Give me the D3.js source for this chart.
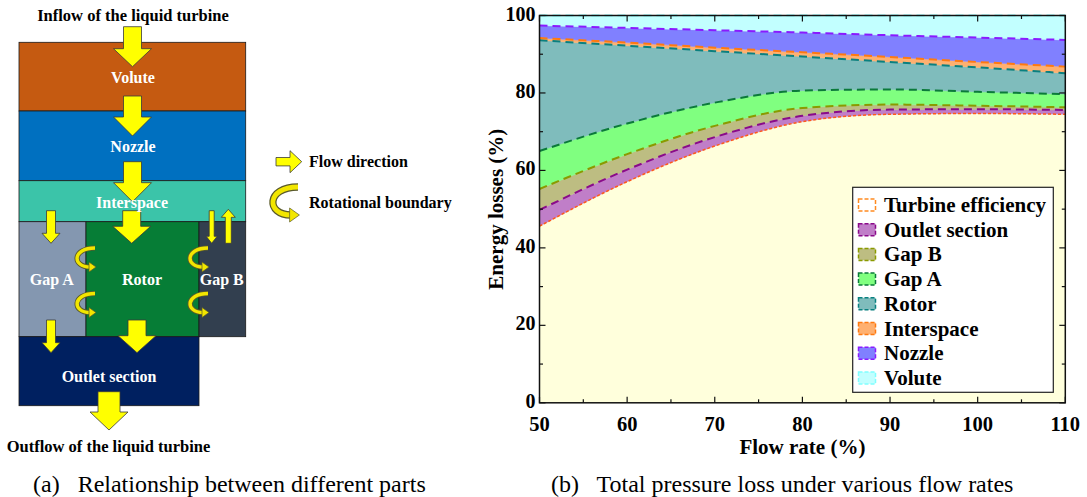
<!DOCTYPE html>
<html>
<head>
<meta charset="utf-8">
<script src="https://cdn.jsdelivr.net/npm/d3@7"></script>
<style>
	body { margin: 0; background: #fff; }
	svg { display: block; }
	text { font-family: "Liberation Serif", "Times New Roman", serif; }
</style>
</head>
<body>
<svg id="fig" width="1087" height="497"></svg>
<script>
// chart data (stack order bottom -> top)
var flowRates = [50, 60, 70, 80, 90, 100, 110];
var seriesNames = ['Turbine efficiency', 'Outlet section', 'Gap B', 'Gap A', 'Rotor', 'Interspace', 'Nozzle', 'Volute'];
var turbineEfficiency = [45.6, 57.1, 66.3, 72.6, 74.5, 74.7, 74.5];
var outletLoss = [4.2, 3.1, 2.3, 1.5, 1.2, 1.1, 1.1];
var gapBLoss = [5.4, 4.0, 2.9, 2.0, 1.3, 0.9, 0.7];
var gapALoss = [9.8, 7.9, 6.0, 4.5, 3.9, 3.6, 3.4];
var rotorLoss = [28.6, 20.1, 13.3, 8.8, 7.1, 6.3, 5.4];
var interspaceLoss = [0.6, 0.8, 0.9, 1.1, 1.3, 1.4, 1.7];
var nozzleLoss = [3.2, 3.8, 4.5, 5.1, 5.6, 6.3, 6.9];
var voluteLoss = [2.6, 3.2, 3.8, 4.4, 5.1, 5.7, 6.3];
var xTicks = [50, 60, 70, 80, 90, 100, 110];
var yTicks = [0, 20, 40, 60, 80, 100];

(function() {
	var svg = d3.select('#fig');

	drawDiagram(svg.append('g'));
	drawChart(svg.append('g'));

	svg.append('text')
		.attr('x', 33).attr('y', 492)
		.attr('font-size', 24)
		.attr('xml:space', 'preserve')
		.text('(a)   Relationship between different parts');

	svg.append('text')
		.attr('x', 551).attr('y', 492)
		.attr('font-size', 24)
		.attr('xml:space', 'preserve')
		.text('(b)   Total pressure loss under various flow rates');

	// ---------- left: relationship diagram ----------
	function drawDiagram(g)
	{
		var blocks = [
			{name: 'Volute', x: 19, y: 42.3, w: 226.7, h: 68.7, c: '#C55A11', tx: 133, ty: 77},
			{name: 'Nozzle', x: 19, y: 111, w: 226.7, h: 69.7, c: '#0070C0', tx: 133, ty: 146},
			{name: 'Interspace', x: 19, y: 180.7, w: 226.7, h: 41, c: '#3BC4A9', tx: 132, ty: 202},
			{name: 'Gap A', x: 19, y: 221.7, w: 67, h: 115, c: '#8497B0', tx: 51.7, ty: 279},
			{name: 'Rotor', x: 86, y: 221.7, w: 113, h: 115, c: '#067D36', tx: 142, ty: 279},
			{name: 'Gap B', x: 199, y: 221.7, w: 46.7, h: 115, c: '#323F4F', tx: 221.7, ty: 279},
			{name: 'Outlet section', x: 19, y: 336.7, w: 180, h: 69, c: '#002060', tx: 109, ty: 376}
		];

		g.selectAll('rect.block')
			.data(blocks)
			.enter()
			.append('rect')
			.attr('class', 'block')
			.attr('x', function(d) { return d.x; })
			.attr('y', function(d) { return d.y; })
			.attr('width', function(d) { return d.w; })
			.attr('height', function(d) { return d.h; })
			.attr('fill', function(d) { return d.c; })
			.attr('stroke', '#1a1a1a')
			.attr('stroke-width', 0.8);

		// flow arrows: [cx, start, tip, shaft width, head width, head length]
		var arrows = [
			[132.5, 26.7, 66.7, 18, 38, 18],
			[132.5, 96, 136, 18, 38, 19],
			[132.5, 161.7, 201.7, 18, 38, 19],
			[131.7, 210.7, 243.3, 18, 38, 17],
			[51, 210.7, 243.3, 9, 18, 10],
			[211.7, 210.7, 243.3, 5, 11, 7],
			[228.3, 243.3, 209.3, 6, 14, 8],
			[137, 320, 352.7, 18, 38, 17],
			[51, 320, 352.7, 9, 18, 10],
			[109, 391.7, 430, 22, 38, 18]
		];

		arrows.forEach(function(a) {
			g.append('path')
				.attr('d', vArrow(a[0], a[1], a[2], a[3], a[4], a[5]))
				.attr('fill', '#FFFF00')
				.attr('stroke', '#3a3a3a')
				.attr('stroke-width', 0.8);
		});

		// rotational boundaries
		[[95, 248, 19], [95, 293.5, 19], [208, 248, 19], [208, 293.5, 19]].forEach(function(c) {
			cArrow(g, c[0], c[1], c[2], 1);
		});

		g.selectAll('text.block-label')
			.data(blocks)
			.enter()
			.append('text')
			.attr('class', 'block-label')
			.attr('x', function(d) { return d.tx; })
			.attr('y', function(d) { return d.ty + 5.5; })
			.attr('text-anchor', 'middle')
			.attr('font-size', 16)
			.attr('font-weight', 'bold')
			.attr('fill', '#fff')
			.text(function(d) { return d.name; });

		g.append('text')
			.attr('x', 133).attr('y', 20.5)
			.attr('text-anchor', 'middle')
			.attr('font-size', 16.5)
			.attr('font-weight', 'bold')
			.text('Inflow of the liquid turbine');

		g.append('text')
			.attr('x', 108.5).attr('y', 452)
			.attr('text-anchor', 'middle')
			.attr('font-size', 16.5)
			.attr('font-weight', 'bold')
			.text('Outflow of the liquid turbine');

		// key
		g.append('path')
			.attr('d', 'M276,157.5 L290,157.5 L290,150.7 L301.7,161.7 L290,172.7 L290,165.9 L276,165.9 Z')
			.attr('fill', '#FFFF00')
			.attr('stroke', '#3a3a3a')
			.attr('stroke-width', 0.8);
		cArrow(g, 298, 187, 28, 1.4);

		g.append('text')
			.attr('x', 309).attr('y', 167)
			.attr('font-size', 16)
			.attr('font-weight', 'bold')
			.text('Flow direction');
		g.append('text')
			.attr('x', 309).attr('y', 208)
			.attr('font-size', 16)
			.attr('font-weight', 'bold')
			.text('Rotational boundary');
	}

	function vArrow(cx, y0, y1, sw, hw, hl)
	{
		var dir = y1 > y0 ? 1 : -1,
			yh = y1 - dir*hl;
		return 'M' + (cx - sw/2) + ',' + y0 +
			' L' + (cx - sw/2) + ',' + yh +
			' L' + (cx - hw/2) + ',' + yh +
			' L' + cx + ',' + y1 +
			' L' + (cx + hw/2) + ',' + yh +
			' L' + (cx + sw/2) + ',' + yh +
			' L' + (cx + sw/2) + ',' + y0 + ' Z';
	}

	function cArrow(g, xr, y0, h, k)
	{
		var d = 'M' + xr + ',' + y0 +
			' C' + (xr - 23*k) + ',' + y0 + ' ' + (xr - 23*k) + ',' + (y0 + h) + ' ' + (xr - 5*k) + ',' + (y0 + h);
		g.append('path').attr('d', d)
			.attr('fill', 'none').attr('stroke', '#5a5a2a').attr('stroke-width', 5.2*k);
		g.append('path').attr('d', d)
			.attr('fill', 'none').attr('stroke', '#F2E600').attr('stroke-width', 3.4*k);
		var tx = xr + 1*k, ty = y0 + h;
		g.append('path')
			.attr('d', 'M' + (tx - 7*k) + ',' + (ty - 5*k) + ' L' + tx + ',' + ty + ' L' + (tx - 7*k) + ',' + (ty + 5*k) + ' Z')
			.attr('fill', '#F2E600')
			.attr('stroke', '#5a5a2a')
			.attr('stroke-width', 0.7);
	}

	// ---------- right: stacked energy losses ----------
	function drawChart(g)
	{
		var left = 539.5, right = 1065.3, top = 15.5, bottom = 402.8;

		var x = d3.scaleLinear().domain([50, 110]).range([left, right]);
		var y = d3.scaleLinear().domain([0, 100]).range([bottom, top]);

		var fills = ['#FFFFDC', '#C07EC8', '#BDBD82', '#80FF80', '#7FBCBC', '#FFB070', '#8080FF', '#C2FFFF'];
		var strokes = ['#FF5A1A', '#8A0A8A', '#8A9A00', '#0B7A3A', '#0A8080', '#FF7A10', '#8A1AFF', '#80FFFF'];

		var columns = [turbineEfficiency, outletLoss, gapBLoss, gapALoss, rotorLoss, interspaceLoss, nozzleLoss, voluteLoss];
		var table = flowRates.map(function(f, i) {
			var row = {flow: f};
			seriesNames.forEach(function(n, k) { row[n] = columns[k][i]; });
			return row;
		});

		var stacked = d3.stack().keys(seriesNames)(table);

		var area = d3.area()
			.curve(d3.curveMonotoneX)
			.x(function(d) { return x(d.data.flow); })
			.y0(function(d) { return y(d[0]); })
			.y1(function(d) { return y(d[1]); });

		var topLine = d3.line()
			.curve(d3.curveMonotoneX)
			.x(function(d) { return x(d.data.flow); })
			.y(function(d) { return y(d[1]); });

		g.append('g')
			.selectAll('path')
			.data(stacked)
			.enter()
			.append('path')
			.attr('d', area)
			.attr('fill', function(d, i) { return fills[i]; })
			.attr('stroke', function(d, i) { return fills[i]; })
			.attr('stroke-width', 0.5);

		g.append('g')
			.selectAll('path')
			.data(stacked)
			.enter()
			.append('path')
			.attr('d', topLine)
			.attr('fill', 'none')
			.attr('stroke', function(d, i) { return strokes[i]; })
			.attr('stroke-width', function(d, i) { return i === 0 ? 1.5 : 2; })
			.attr('stroke-dasharray', function(d, i) { return i === 0 ? '3,2' : '8,5'; });

		// frame and inward ticks
		g.append('rect')
			.attr('x', left).attr('y', top)
			.attr('width', right - left).attr('height', bottom - top)
			.attr('fill', 'none')
			.attr('stroke', '#111')
			.attr('stroke-width', 1.5);

		var xAll = d3.range(50, 111, 5),
			yAll = d3.range(0, 101, 10);

		var ticks = g.append('g').attr('stroke', '#111').attr('stroke-width', 1.2);
		xAll.forEach(function(v) {
			var len = v % 10 === 0 ? 6 : 3.5;
			ticks.append('line').attr('x1', x(v)).attr('x2', x(v)).attr('y1', bottom).attr('y2', bottom - len);
			ticks.append('line').attr('x1', x(v)).attr('x2', x(v)).attr('y1', top).attr('y2', top + len);
		});
		yAll.forEach(function(v) {
			var len = v % 20 === 0 ? 6 : 3.5;
			ticks.append('line').attr('x1', left).attr('x2', left + len).attr('y1', y(v)).attr('y2', y(v));
			ticks.append('line').attr('x1', right).attr('x2', right - len).attr('y1', y(v)).attr('y2', y(v));
		});

		g.append('g')
			.selectAll('text')
			.data(xTicks)
			.enter()
			.append('text')
			.attr('x', function(d) { return x(d); })
			.attr('y', 430.5)
			.attr('text-anchor', 'middle')
			.attr('font-size', 20.5)
			.attr('font-weight', 'bold')
			.text(function(d) { return d; });

		g.append('g')
			.selectAll('text')
			.data(yTicks)
			.enter()
			.append('text')
			.attr('x', 535.5)
			.attr('y', function(d) { return y(d) + 5; })
			.attr('text-anchor', 'end')
			.attr('font-size', 20)
			.attr('font-weight', 'bold')
			.text(function(d) { return d; });

		g.append('text')
			.attr('x', (left + right)/2).attr('y', 454)
			.attr('text-anchor', 'middle')
			.attr('font-size', 21)
			.attr('font-weight', 'bold')
			.text('Flow rate (%)');

		g.append('text')
			.attr('transform', 'translate(503,' + ((top + bottom)/2) + ') rotate(-90)')
			.attr('text-anchor', 'middle')
			.attr('font-size', 21)
			.attr('font-weight', 'bold')
			.text('Energy losses (%)');

		// legend
		var lx = 852.7, ly = 187.3, lw = 200.6, lh = 205, step = 24.7;
		var legend = g.append('g');
		legend.append('rect')
			.attr('x', lx).attr('y', ly)
			.attr('width', lw).attr('height', lh)
			.attr('fill', '#fff')
			.attr('stroke', '#222')
			.attr('stroke-width', 1.2);

		var items = legend.selectAll('g.item')
			.data(seriesNames)
			.enter()
			.append('g')
			.attr('class', 'item')
			.attr('transform', function(d, i) { return 'translate(0,' + (205 + i*step) + ')'; });

		items.append('rect')
			.attr('x', 858.5).attr('y', -6)
			.attr('width', 17).attr('height', 12)
			.attr('fill', function(d, i) { return i === 0 ? '#fff' : fills[i]; })
			.attr('stroke', function(d, i) { return i === 0 ? '#FF8A20' : strokes[i]; })
			.attr('stroke-width', 1.5)
			.attr('stroke-dasharray', '4,2');

		items.append('text')
			.attr('x', 884).attr('y', 7)
			.attr('font-size', 21)
			.attr('font-weight', 'bold')
			.text(function(d) { return d; });
	}
})();
</script>
</body>
</html>
